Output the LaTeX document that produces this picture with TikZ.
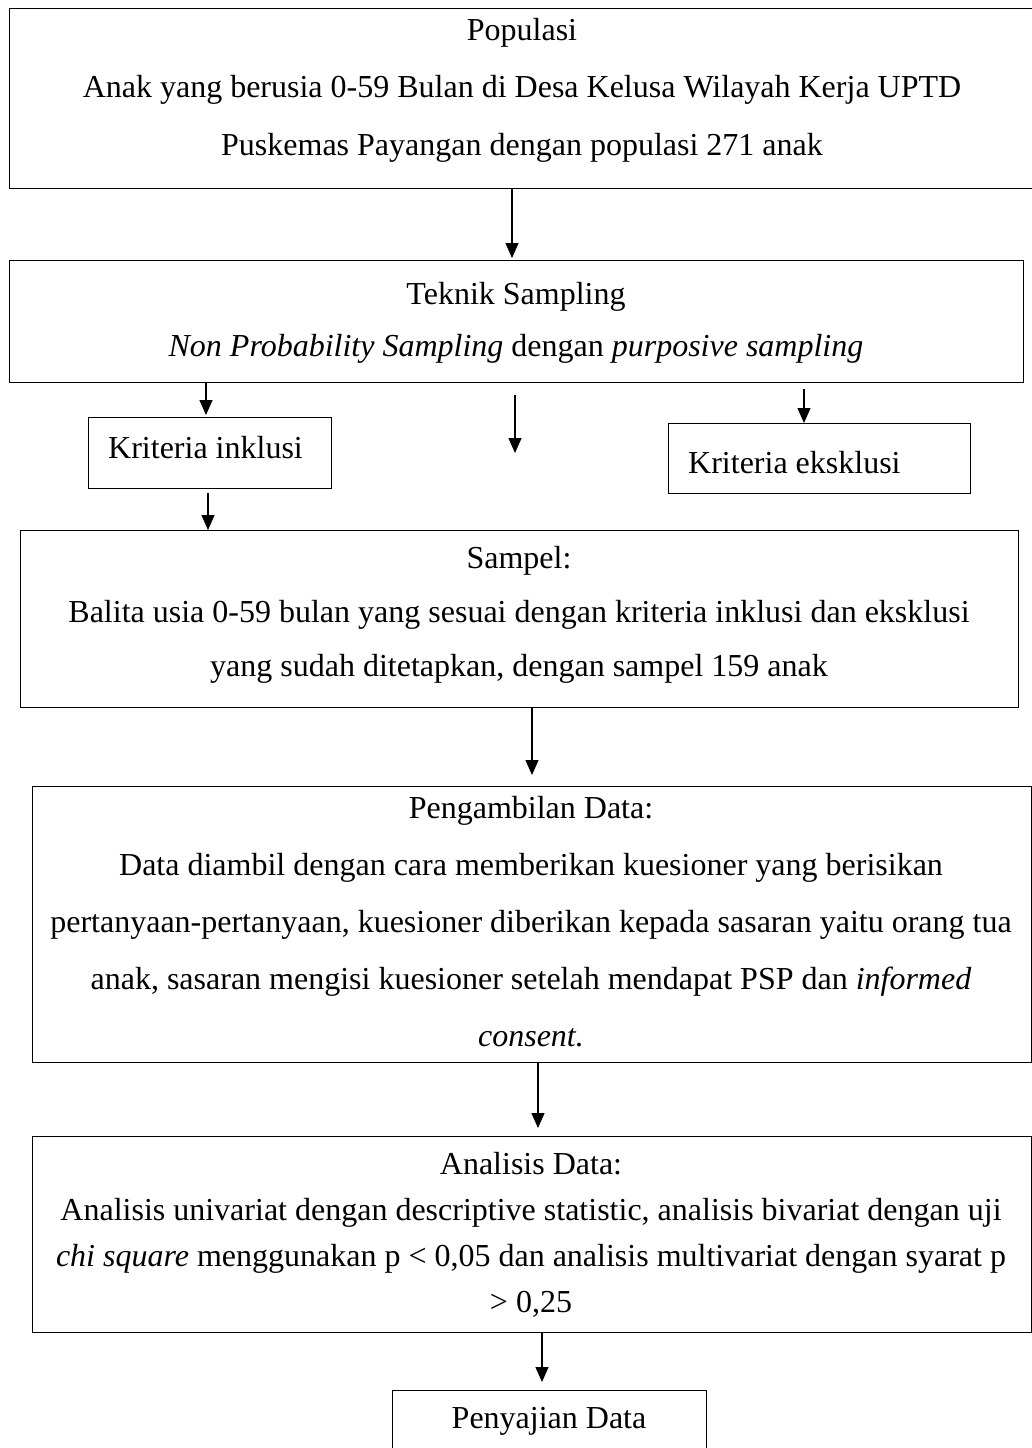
\documentclass[tikz,border=0pt]{standalone}
\usepackage{fontspec}
\setmainfont{Liberation Serif}
\usetikzlibrary{arrows.meta}
\begin{document}
\begin{tikzpicture}[x=1pt,y=-1pt,
  box/.style={draw=black, line width=1.3pt, inner sep=0pt, anchor=north west},
  txt/.style={anchor=base, inner sep=0pt, font=\fontsize{32}{38}\selectfont},
  ltxt/.style={txt, anchor=base west},
  arr/.style={line width=1.3pt, -{Triangle[length=15pt,width=13pt]}}
]
\useasboundingbox[fill=white] (0,0) rectangle (1032,1448);
% boxes
\node[box, minimum width=1026pt, minimum height=180pt] (b1) at (9,8) {};
\node[box, minimum width=1014pt, minimum height=122pt] (b2) at (9,260) {};
\node[box, minimum width=243pt, minimum height=71pt] (bin) at (88,417) {};
\node[box, minimum width=302pt, minimum height=70pt] (bex) at (668,423) {};
\node[box, minimum width=998pt, minimum height=177pt] (b3) at (20,530) {};
\node[box, minimum width=999pt, minimum height=276pt] (b4) at (32,786) {};
\node[box, minimum width=999pt, minimum height=196pt] (b5) at (32,1136) {};
\node[box, minimum width=314pt, minimum height=66pt] (b6) at (392,1390) {};
% texts
\node[txt] (t11) at (522,40) {Populasi};
\node[txt] (t12) at (522,97) {Anak yang berusia 0-59 Bulan di Desa Kelusa Wilayah Kerja UPTD};
\node[txt] (t13) at (522,155) {Puskemas Payangan dengan populasi 271 anak};
\node[txt] (t21) at (516,304) {Teknik Sampling};
\node[txt] (t22) at (516,356) {\textit{Non Probability Sampling} dengan \textit{purposive sampling}};
\node[ltxt] (tin) at (108,458) {Kriteria inklusi};
\node[ltxt] (tex) at (688,473) {Kriteria eksklusi};
\node[txt] (t31) at (519,568) {Sampel:};
\node[txt] (t32) at (519,622) {Balita usia 0-59 bulan yang sesuai dengan kriteria inklusi dan eksklusi};
\node[txt] (t33) at (519,676) {yang sudah ditetapkan, dengan sampel 159 anak};
\node[txt] (t41) at (531,818) {Pengambilan Data:};
\node[txt] (t42) at (531,875) {Data diambil dengan cara memberikan kuesioner yang berisikan};
\node[txt] (t43) at (531,932) {pertanyaan-pertanyaan, kuesioner diberikan kepada sasaran yaitu orang tua};
\node[txt] (t44) at (531,989) {anak, sasaran mengisi kuesioner setelah mendapat PSP dan \textit{informed}};
\node[txt] (t45) at (531,1046) {\textit{consent.}};
\node[txt] (t51) at (531,1174) {Analisis Data:};
\node[txt] (t52) at (531,1220) {Analisis univariat dengan descriptive statistic, analisis bivariat dengan uji};
\node[txt] (t53) at (531,1266) {\textit{chi square} menggunakan p < 0,05 dan analisis multivariat dengan syarat p};
\node[txt] (t54) at (531,1312) {> 0,25};
\node[txt] (t61) at (549,1428) {Penyajian Data};
% arrow columns
\coordinate (c1) at (512,0);
\coordinate (c2) at (206,0);
\coordinate (c3) at (804,0);
\coordinate (c4) at (208,0);
\coordinate (c5) at (532,0);
\coordinate (c6) at (538,0);
\coordinate (c7) at (542,0);
\coordinate (m1) at (515,395);
\coordinate (m2) at (515,453);
% connectors
\draw[arr, shorten >=2pt] (b1.south -| c1) -- (b2.north -| c1);
\draw[arr, shorten >=2pt] (b2.south -| c2) -- (bin.north -| c2);
\draw[arr] (m1) -- (m2);
\draw[arr, shorten <=6pt] (b2.south -| c3) -- (bex.north -| c3);
\draw[arr, shorten <=4pt] (bin.south -| c4) -- (b3.north -| c4);
\draw[arr, shorten >=11pt] (b3.south -| c5) -- (b4.north -| c5);
\draw[arr, shorten >=8pt] (b4.south -| c6) -- (b5.north -| c6);
\draw[arr, shorten >=8pt] (b5.south -| c7) -- (b6.north -| c7);
\end{tikzpicture}
\end{document}
